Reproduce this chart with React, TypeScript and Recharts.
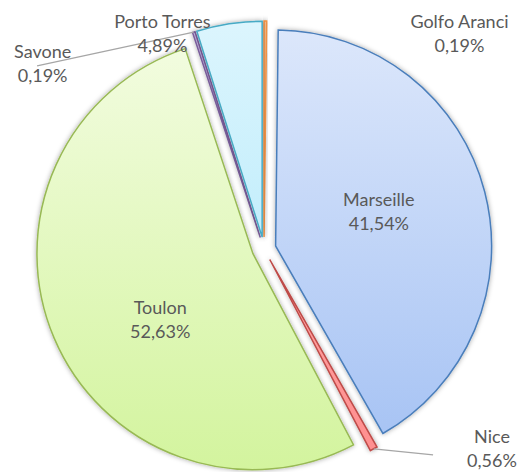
import React from "react";
import { Cell, Pie, PieChart } from "recharts";

const PORTS = ["Golfo Aranci", "Marseille", "Nice", "Toulon", "Savone", "Porto Torres"];
const SHARES = [0.19, 41.54, 0.56, 52.63, 0.19, 4.89];
const SHARE_LABELS = ["0,19%", "41,54%", "0,56%", "52,63%", "0,19%", "4,89%"];

// styling per slice
const FILL_TOP = ["#fbc79a", "#dce7fb", "#ffa3a3", "#f2fcdf", "#c9b8e2", "#dcf5fd"];
const FILL_BOTTOM = ["#f8a868", "#a8c4f4", "#ff8f8f", "#d3f49e", "#b19bd4", "#c3eefc"];
const STROKES = ["#f79646", "#4a7ebb", "#be4b48", "#98b954", "#7d60a0", "#46aac5"];

// label placement (angle clockwise from 12 o'clock, distance from centre in px)
const LABEL_ANGLE = [42.2, 71.7, 131.1, 236.1, 310, 334.8];
const LABEL_DIST = [291, 121, 302.6, 125, 289, 238.6];
// leader line ends for small outside slices (null = none)
const LEADER_END: ([number, number] | null)[] = [null, null, [140.6, 266.4], null, [308.9, 291.6], null];

const EXPLODE = 12;
const RAD = Math.PI / 180;

const data = PORTS.map((name, i) => ({ name, value: SHARES[i], label: SHARE_LABELS[i] }));

// mid angles (recharts convention: ccw from 3 o'clock), start at 90 going clockwise
const total = SHARES.reduce((a, b) => a + b, 0);
let acc = 0;
const MID = SHARES.map(v => {
  const start = 90 - (acc / total) * 360;
  acc += v;
  const end = 90 - (acc / total) * 360;
  return (start + end) / 2;
});

const at = (cx: number, cy: number, cwAngle: number, r: number) => ({
  x: cx + r * Math.sin(cwAngle * RAD),
  y: cy - r * Math.cos(cwAngle * RAD),
});

const renderLabel = (props: any) => {
  const { cx, cy, index, outerRadius } = props;
  const p = at(cx, cy, LABEL_ANGLE[index], LABEL_DIST[index]);
  const lead = LEADER_END[index];
  let line = null;
  if (lead) {
    const cw = 90 - MID[index];
    const a = at(cx, cy, cw, outerRadius + EXPLODE);
    const b = at(cx, cy, lead[0], lead[1]);
    line = <path d={`M${a.x},${a.y}L${b.x},${b.y}`} stroke="#a6a6a6" strokeWidth={1.2} fill="none" />;
  }
  return (
    <g>
      {line}
      <text x={p.x} y={p.y} textAnchor="middle" fill="#595959" fontSize={18} fontFamily="Lato">
        <tspan x={p.x} dy={-5}>{data[index].name}</tspan>
        <tspan x={p.x} dy={24}>{data[index].label}</tspan>
      </text>
    </g>
  );
};

export default function App() {
  return (
    <div style={{ position: "absolute", left: 0, top: 0, width: 519, height: 472, background: "#fff" }}>
      <PieChart width={519} height={472} margin={{ top: 0, right: 0, bottom: 0, left: 0 }}>
        <defs>
          {PORTS.map((_, i) => (
            <linearGradient key={i} id={`g${i}`} x1="0" y1="0" x2="0" y2="1">
              <stop offset="0%" stopColor={FILL_TOP[i]} />
              <stop offset="100%" stopColor={FILL_BOTTOM[i]} />
            </linearGradient>
          ))}
          <filter id="shadow" x="-20%" y="-20%" width="140%" height="140%">
            <feDropShadow dx="0" dy="0" stdDeviation="2.5" floodColor="#000" floodOpacity="0.35" />
          </filter>
        </defs>
        <Pie
          data={data}
          dataKey="value"
          nameKey="name"
          cx={264}
          cy={249}
          outerRadius={216}
          startAngle={90}
          endAngle={-270}
          isAnimationActive={false}
          label={renderLabel}
          labelLine={false}
        >
          {data.map((_, i) => (
            <Cell
              key={i}
              fill={`url(#g${i})`}
              stroke={STROKES[i]}
              strokeWidth={1.5}
              filter="url(#shadow)"
              transform={`translate(${EXPLODE * Math.cos(MID[i] * RAD)},${-EXPLODE * Math.sin(MID[i] * RAD)})`}
            />
          ))}
        </Pie>
      </PieChart>
    </div>
  );
}
